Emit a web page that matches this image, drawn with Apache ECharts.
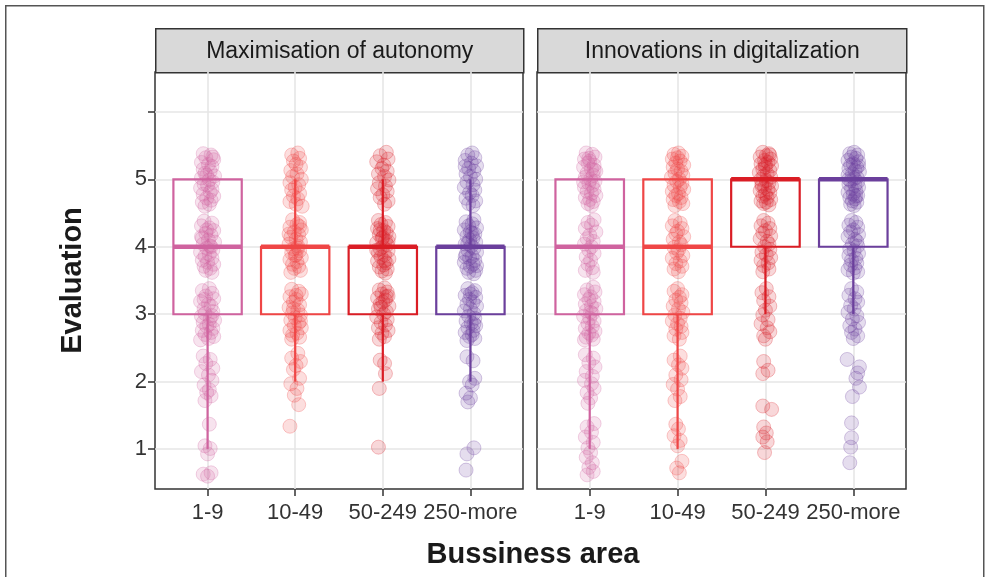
<!DOCTYPE html>
<html>
<head>
<meta charset="utf-8">
<title>Evaluation by business size</title>
<script src="https://cdn.jsdelivr.net/npm/echarts@6/dist/echarts.min.js"></script>
<style>
  html, body { margin: 0; padding: 0; background: #fff; }
  #chart { width: 990px; height: 577px; }
</style>
</head>
<body>
<div id="chart"></div>
<script>
// Facets, categories and axis ticks
const facets = ['Maximisation of autonomy', 'Innovations in digitalization'];
const categories = ['1-9', '10-49', '50-249', '250-more'];
const yLabelTicks = [1, 2, 3, 4, 5];
const yGridTicks = [1, 2, 3, 4, 5, 6];

// Box statistics per category: [lower whisker, Q1, median, Q3, upper whisker]
const autonomyBoxes = [[1, 3, 4, 5, 5], [2, 3, 4, 4, 5], [2, 3, 4, 4, 5], [2, 3, 4, 4, 5]];
const digitalBoxes = [[1, 3, 4, 5, 5], [1, 3, 4, 5, 5], [3, 4, 5, 5, 5], [3, 4, 5, 5, 5]];

// Jittered responses: [horizontal jitter (category units), evaluation]
const autonomy_1_9 = [
  [-.05,5.38],[.04,5.36],[-.02,5.32],[.07,5.29],[-.07,5.25],[.01,5.22],[.05,5.19],[-.05,5.15],[.03,5.12],[-.03,5.09],[.08,5.05],[-.07,5.02],[.02,4.99],[.06,4.96],[-.04,4.93],[.00,4.91],[-.08,4.87],[.05,4.85],[.03,4.81],[-.05,4.78],[.07,4.75],[-.01,4.72],[.04,4.69],[-.06,4.66],[.02,4.63],[-.03,4.60],[.06,5.33],[-.01,5.06],
  [-.04,4.38],[.05,4.35],[-.07,4.31],[.02,4.28],[.07,4.24],[-.02,4.20],[.04,4.17],[-.06,4.13],[.01,4.10],[.08,4.07],[-.05,4.04],[.03,4.01],[-.01,3.98],[.06,3.95],[-.08,3.92],[.02,3.89],[-.03,3.86],[.05,3.83],[-.06,3.80],[.00,3.77],[.07,3.74],[-.04,3.71],[.03,3.68],[-.02,3.65],[.05,3.62],[-.07,4.15],[.04,4.00],[-.01,4.25],
  [.02,3.38],[-.06,3.35],[.05,3.31],[-.02,3.27],[.07,3.23],[-.08,3.19],[.01,3.15],[.04,3.12],[-.04,3.08],[.06,3.04],[-.03,3.01],[-.07,2.97],[.03,2.94],[.08,2.91],[-.05,2.88],[.02,2.85],[-.01,2.82],[.06,2.79],[-.06,2.76],[.04,2.73],[-.03,2.70],[.07,2.67],[.01,2.64],[-.08,2.62],[.05,2.98],[-.04,3.22],
  [-.05,2.38],[.03,2.33],[-.02,2.27],[.06,2.20],[-.07,2.15],[.01,2.10],[.05,2.02],[-.04,1.95],[.02,1.88],[-.01,1.84],[.04,1.79],[-.03,1.72],
  [.02,1.37],[-.03,1.05],[.03,1.01],[.00,0.93],[-.05,0.63],[.04,0.65],[.00,0.60]
];
const autonomy_10_49 = [
  [.03,5.39],[-.04,5.36],[.05,5.31],[-.02,5.27],[.01,5.22],[.06,5.18],[-.05,5.13],[.02,5.08],[-.03,5.04],[.07,5.00],[-.06,4.95],[.04,4.92],[.00,4.88],[-.04,4.84],[.05,4.79],[-.02,4.75],[.03,4.71],[-.06,4.67],[.01,4.63],[.08,4.60],
  [-.03,4.40],[.05,4.36],[.02,4.33],[-.06,4.29],[.07,4.25],[-.01,4.22],[.04,4.18],[-.05,4.14],[.01,4.11],[.06,4.07],[-.07,4.04],[.03,4.01],[-.02,3.97],[.05,3.94],[-.04,3.91],[.00,3.87],[.07,3.84],[-.06,3.81],[.02,3.78],[-.03,3.74],[.04,3.71],[-.01,3.68],[.06,3.65],[-.05,3.62],[.03,3.98],[-.07,4.19],[.01,3.88],[.05,4.30],
  [-.04,3.37],[.04,3.34],[.07,3.30],[-.06,3.26],[.01,3.22],[-.02,3.18],[.05,3.14],[-.07,3.10],[.03,3.06],[-.03,3.02],[.06,2.99],[.00,2.95],[-.05,2.91],[.04,2.87],[-.01,2.83],[.07,2.80],[-.06,2.76],[.02,2.72],[-.03,2.69],[.05,2.66],[-.04,2.63],[.01,3.28],[.06,2.90],[-.02,3.08],
  [.03,2.42],[-.04,2.35],[.06,2.30],[.01,2.24],[-.02,2.18],[.05,2.05],[-.05,1.97],[.02,1.90],[-.01,1.80],[.04,1.66],
  [-.06,1.34]
];
const autonomy_50_249 = [
  [.04,5.40],[-.03,5.35],[.06,5.30],[-.07,5.26],[.01,5.21],[-.01,5.16],[.05,5.12],[-.05,5.08],[.02,5.04],[.07,4.99],[-.04,4.95],[.03,4.90],[-.06,4.86],[.05,4.82],[.00,4.77],[-.03,4.73],[.06,4.68],[.02,4.63],
  [-.05,4.39],[.03,4.36],[-.02,4.33],[.06,4.30],[-.06,4.27],[.01,4.24],[.04,4.21],[-.04,4.18],[.07,4.15],[-.01,4.12],[.03,4.09],[-.07,4.06],[.05,4.03],[.00,4.00],[-.03,3.97],[.06,3.94],[-.05,3.91],[.02,3.88],[-.02,3.85],[.07,3.82],[-.06,3.79],[.04,3.76],[.01,3.73],[-.04,3.70],[.05,3.67],[-.01,3.64],[.03,3.61],[-.07,3.95],[.06,4.08],[-.03,4.25],[.02,3.79],[.00,4.14],
  [.02,3.39],[-.04,3.36],[.05,3.33],[-.01,3.30],[.06,3.27],[-.06,3.24],[.03,3.21],[.00,3.18],[-.03,3.15],[.07,3.12],[-.05,3.08],[.04,3.04],[.01,3.00],[-.07,2.96],[.05,2.92],[-.02,2.88],[.03,2.84],[-.05,2.80],[.06,2.76],[-.01,2.72],[.02,2.67],[-.04,2.63],[.04,3.26],[-.02,3.10],
  [-.03,2.32],[.02,2.27],[.03,2.12],[-.04,1.90],
  [-.05,1.03]
];
const autonomy_250_more = [
  [.02,5.39],[-.03,5.36],[.05,5.32],[-.06,5.28],[.01,5.24],[.07,5.20],[-.02,5.16],[.04,5.12],[-.05,5.08],[.00,5.04],[.06,5.00],[-.04,4.96],[.03,4.92],[-.07,4.88],[.05,4.84],[-.01,4.80],[.02,4.76],[-.05,4.72],[.06,4.68],[-.02,4.64],[.03,4.61],[-.06,5.19],
  [.04,4.40],[-.05,4.37],[.02,4.34],[-.02,4.31],[.07,4.28],[-.07,4.25],[.00,4.22],[.05,4.19],[-.04,4.16],[.03,4.13],[-.01,4.10],[.06,4.07],[-.06,4.04],[.01,4.01],[.04,3.98],[-.03,3.95],[.07,3.92],[-.05,3.89],[.02,3.86],[-.01,3.83],[.05,3.80],[-.07,3.77],[.03,3.74],[.00,3.71],[-.04,3.68],[.06,3.65],[-.02,3.62],[.04,3.60],[-.06,3.85],[.02,4.20],[.07,3.72],[-.03,4.05],
  [-.03,3.38],[.05,3.35],[.02,3.32],[-.06,3.28],[.06,3.25],[-.01,3.22],[.03,3.18],[-.04,3.15],[.07,3.12],[.00,3.08],[-.07,3.05],[.04,3.01],[-.02,2.97],[.05,2.94],[-.05,2.90],[.01,2.87],[.06,2.83],[-.03,2.80],[.03,2.76],[-.06,2.73],[.02,2.70],[-.01,2.67],[.05,2.64],[-.04,2.61],[.00,3.30],[.04,2.86],
  [-.04,2.37],[.03,2.31],[.05,2.05],[-.01,2.00],[.02,1.95],[-.05,1.83],[.00,1.76],[-.03,1.70],
  [.04,1.02],[-.04,0.93],[-.05,0.69]
];
const digital_1_9 = [
  [-.04,5.39],[.03,5.37],[.06,5.33],[-.06,5.30],[.00,5.27],[-.02,5.24],[.05,5.21],[-.07,5.18],[.02,5.15],[.07,5.12],[-.03,5.09],[.04,5.06],[-.05,5.03],[.01,5.00],[.06,4.97],[-.01,4.94],[.03,4.91],[-.06,4.88],[.05,4.85],[-.03,4.82],[.02,4.79],[.07,4.76],[-.05,4.73],[.00,4.70],[.04,4.67],[-.02,4.64],[.02,4.61],[-.07,4.96],[.05,5.14],[-.01,5.31],
  [.05,4.40],[-.02,4.36],[.02,4.32],[-.05,4.27],[.07,4.22],[.00,4.17],[-.03,4.12],[.04,4.08],[-.06,4.04],[.02,4.00],[-.01,3.95],[.05,3.90],[-.04,3.85],[.01,3.80],[-.02,3.74],[.03,3.69],[-.05,3.65],[.04,3.62],
  [.04,3.40],[-.03,3.36],[.06,3.33],[-.06,3.29],[.01,3.26],[-.01,3.22],[.05,3.19],[-.05,3.15],[.02,3.12],[.07,3.08],[-.04,3.05],[.03,3.01],[-.07,2.97],[.00,2.94],[.05,2.90],[-.02,2.86],[.03,2.82],[-.05,2.79],[.06,2.75],[-.01,2.72],[.02,2.69],[-.04,2.66],[.04,2.63],[-.06,2.62],[.01,3.03],
  [-.05,2.40],[.04,2.35],[-.01,2.28],[.06,2.22],[-.04,2.15],[.03,2.08],[-.06,2.02],[.02,1.97],[.05,1.90],[-.03,1.84],[.01,1.76],[-.02,1.68],
  [.05,1.38],[-.03,1.33],[.02,1.25],[-.05,1.18],[.04,1.10],[-.02,1.02],[.01,0.95],[-.04,0.88],[.03,0.80],[-.01,0.73],[.04,0.67],[-.03,0.62]
];
const digital_10_49 = [
  [.01,5.39],[-.04,5.37],[.05,5.34],[-.06,5.30],[.03,5.27],[-.02,5.24],[.07,5.21],[-.05,5.18],[.00,5.15],[.04,5.12],[-.03,5.09],[.06,5.06],[-.07,5.03],[.02,5.00],[-.01,4.97],[.05,4.94],[-.04,4.91],[.03,4.88],[.07,4.85],[-.06,4.82],[.01,4.79],[-.02,4.76],[.04,4.73],[-.05,4.70],[.02,4.67],[.06,4.64],[-.03,4.61],[.00,5.32],
  [-.03,4.39],[.03,4.35],[-.06,4.31],[.05,4.27],[.00,4.23],[-.02,4.19],[.07,4.15],[-.05,4.11],[.02,4.07],[.04,4.03],[-.04,3.99],[.01,3.95],[-.01,3.91],[.06,3.87],[-.06,3.83],[.03,3.79],[-.02,3.75],[.05,3.71],[-.04,3.67],[.01,3.63],
  [.00,3.38],[-.04,3.34],[.05,3.29],[.02,3.25],[-.02,3.21],[.04,3.17],[-.05,3.12],[.01,3.08],[.06,3.03],[-.03,2.99],[.03,2.94],[-.06,2.90],[.00,2.86],[.04,2.82],[-.02,2.78],[.05,2.73],[-.04,2.68],[.02,2.63],
  [.03,2.38],[-.04,2.32],[.01,2.25],[.05,2.20],[-.02,2.10],[.04,2.03],[-.05,1.96],[.00,1.89],[.03,1.78],[-.03,1.72],
  [-.02,1.37],[.01,1.30],[-.04,1.20],[.03,1.13],[.00,1.05],[.05,0.82],[-.01,0.72],[.02,0.65]
];
const digital_50_249 = [
  [-.03,5.40],[.04,5.38],[.01,5.35],[-.06,5.33],[.06,5.30],[-.01,5.28],[.03,5.25],[-.05,5.23],[.07,5.20],[.00,5.18],[-.03,5.15],[.05,5.13],[-.07,5.10],[.02,5.08],[-.02,5.05],[.06,5.03],[-.05,5.00],[.01,4.98],[.04,4.95],[-.04,4.93],[.07,4.90],[-.01,4.88],[.03,4.85],[-.06,4.83],[.05,4.80],[.00,4.78],[-.03,4.75],[.02,4.73],[.06,4.70],[-.05,4.68],[.01,4.66],[-.02,4.64],[.04,4.62],[.00,5.22],[-.04,4.90],[.05,5.36],
  [-.02,4.39],[.03,4.35],[-.05,4.31],[.05,4.27],[.00,4.24],[-.03,4.20],[.06,4.16],[-.06,4.12],[.02,4.08],[.04,4.04],[-.01,4.00],[.05,3.96],[-.04,3.92],[.01,3.88],[.06,3.84],[-.05,3.80],[.03,3.76],[-.02,3.72],[.04,3.67],[-.03,3.63],
  [.01,3.38],[-.04,3.32],[.04,3.26],[-.02,3.20],[.05,3.12],[.00,3.06],[-.03,2.99],[.03,2.92],[-.05,2.86],[.02,2.80],[.05,2.74],[-.02,2.68],[.00,2.63],
  [-.02,2.30],[.03,2.17],[-.03,2.12],[-.03,1.64],[.07,1.59],
  [-.02,1.33],[.01,1.24],[-.03,1.18],[.02,1.11],[-.01,0.95]
];
const digital_250_more = [
  [.01,5.40],[-.04,5.38],[.05,5.36],[-.02,5.33],[.03,5.31],[-.06,5.28],[.06,5.26],[.00,5.23],[-.03,5.21],[.04,5.18],[-.05,5.16],[.02,5.13],[.07,5.11],[-.01,5.08],[-.06,5.06],[.04,5.03],[.01,5.01],[-.03,4.98],[.05,4.96],[-.05,4.93],[.02,4.91],[.06,4.88],[-.02,4.86],[.03,4.83],[-.06,4.81],[.00,4.78],[.05,4.76],[-.04,4.73],[.02,4.71],[-.01,4.68],[.04,4.66],[-.03,4.63],[.01,4.61],[.06,5.20],[-.05,5.00],[.03,4.75],
  [-.02,4.39],[.03,4.36],[-.05,4.32],[.05,4.29],[.00,4.25],[-.03,4.22],[.06,4.18],[-.06,4.15],[.02,4.11],[.04,4.08],[-.01,4.04],[.05,4.01],[-.04,3.97],[.01,3.94],[.06,3.90],[-.05,3.87],[.03,3.83],[-.02,3.80],[.04,3.76],[-.03,3.73],[.02,3.69],[-.06,3.66],[.05,3.63],[.00,3.61],
  [-.02,3.38],[.04,3.33],[-.05,3.28],[.02,3.23],[.05,3.18],[-.03,3.13],[.01,3.08],[-.06,3.03],[.04,2.98],[-.01,2.93],[.06,2.88],[-.04,2.83],[.02,2.78],[-.02,2.73],[.05,2.68],[.00,2.64],
  [-.07,2.33],[.07,2.22],[.05,2.13],[.03,2.05],[.07,1.92],[-.01,1.78],
  [-.02,1.39],[-.02,1.17],[-.03,1.03],[-.04,0.80]
];

const autonomyPoints = [autonomy_1_9, autonomy_10_49, autonomy_50_249, autonomy_250_more];
const digitalPoints = [digital_1_9, digital_10_49, digital_50_249, digital_250_more];

// Styling
const palette = ['#CF639F', '#EF4646', '#DA1D25', '#6B3F9C'];
const FONT = 'Liberation Sans, Arial, Helvetica, sans-serif';
const BOX_HALF = 0.39;

function rgba(hex, a) {
  const n = parseInt(hex.slice(1), 16);
  return `rgba(${(n >> 16) & 255},${(n >> 8) & 255},${n & 255},${a})`;
}

const panels = [
  { left: 155, width: 368 },
  { left: 537, width: 369 }
];
const PANEL_TOP = 72, PANEL_H = 417, STRIP_TOP = 28;

const grids = panels.map(p => ({
  left: p.left, top: PANEL_TOP, width: p.width, height: PANEL_H,
  show: true, backgroundColor: '#fff', borderColor: '#333', borderWidth: 1.5,
  containLabel: false
}));

const xAxes = panels.map((p, k) => ({
  type: 'value', gridIndex: k, min: 0.4, max: 4.6,
  axisLine: { show: false },
  axisTick: { show: true, length: 7, customValues: [1, 2, 3, 4], lineStyle: { color: '#333', width: 1.5 } },
  axisLabel: {
    customValues: [1, 2, 3, 4], margin: 13,
    formatter: v => categories[Math.round(v) - 1],
    fontSize: 22, color: '#333', fontFamily: FONT
  },
  splitLine: { show: true, lineStyle: { color: '#E6E6E6', width: 1.6 } }
}));

const yAxes = panels.map((p, k) => ({
  type: 'value', gridIndex: k, min: 0.41, max: 6.59,
  axisLine: { show: false },
  axisTick: { show: k === 0, length: 7, customValues: yGridTicks, lineStyle: { color: '#333', width: 1.5 } },
  axisLabel: {
    show: k === 0, customValues: yLabelTicks, margin: 8,
    fontSize: 22, color: '#333', fontFamily: FONT
  },
  splitLine: { show: true, lineStyle: { color: '#E6E6E6', width: 1.6 } },
  name: k === 0 ? 'Evaluation' : '',
  nameLocation: 'middle', nameRotate: 90, nameGap: 68,
  nameTextStyle: { fontSize: 29, fontWeight: 'bold', color: '#1a1a1a', fontFamily: FONT }
}));

function renderBox(params, api) {
  const x = api.value(0);
  const lo = api.value(1), q1 = api.value(2), md = api.value(3), q3 = api.value(4), hi = api.value(5);
  const c = palette[params.dataIndex];
  const pTopLeft = api.coord([x - BOX_HALF, q3]);
  const pBotRight = api.coord([x + BOX_HALF, q1]);
  const xc = api.coord([x, md])[0];
  const yMd = api.coord([x, md])[1];
  const yLo = api.coord([x, lo])[1];
  const yHi = api.coord([x, hi])[1];
  const thin = { stroke: c, lineWidth: 2.2, fill: null };
  return {
    type: 'group',
    children: [
      { type: 'line', shape: { x1: xc, y1: pBotRight[1], x2: xc, y2: yLo }, style: thin },
      { type: 'line', shape: { x1: xc, y1: pTopLeft[1], x2: xc, y2: yHi }, style: thin },
      { type: 'rect', shape: { x: pTopLeft[0], y: pTopLeft[1], width: pBotRight[0] - pTopLeft[0], height: pBotRight[1] - pTopLeft[1] },
        style: { stroke: c, lineWidth: 2.2, fill: 'rgba(0,0,0,0)' } },
      { type: 'line', shape: { x1: pTopLeft[0], y1: yMd, x2: pBotRight[0], y2: yMd }, style: { stroke: c, lineWidth: 4.4 } }
    ]
  };
}

const series = [];
[autonomyPoints, digitalPoints].forEach((groups, k) => {
  groups.forEach((pts, i) => {
    series.push({
      type: 'scatter', xAxisIndex: k, yAxisIndex: k,
      data: pts.map(p => [i + 1 + p[0], p[1]]),
      symbol: 'circle', symbolSize: 14,
      itemStyle: { color: rgba(palette[i], 0.22), borderColor: rgba(palette[i], 0.34), borderWidth: 1 },
      silent: true, z: 2
    });
  });
});
[autonomyBoxes, digitalBoxes].forEach((boxes, k) => {
  series.push({
    type: 'custom', xAxisIndex: k, yAxisIndex: k,
    data: boxes.map((b, i) => [i + 1].concat(b)),
    encode: { x: 0, y: [1, 2, 3, 4, 5] },
    renderItem: renderBox, silent: true, z: 3
  });
});

const strips = panels.map((p, k) => ({
  type: 'group', left: p.left, top: STRIP_TOP,
  children: [
    { type: 'rect', shape: { x: 0, y: 0, width: p.width, height: PANEL_TOP - STRIP_TOP },
      style: { fill: '#D9D9D9', stroke: '#333', lineWidth: 1.5 } },
    { type: 'text', x: p.width / 2, y: (PANEL_TOP - STRIP_TOP) / 2 + 1,
      style: { text: facets[k], fill: '#1a1a1a', font: `23px ${FONT}`, align: 'center', verticalAlign: 'middle' } }
  ]
}));

const chart = echarts.init(document.getElementById('chart'), null, { renderer: 'canvas', width: 990, height: 577 });
chart.setOption({
  animation: false,
  backgroundColor: '#fff',
  title: {
    text: 'Bussiness area', left: 528, top: 535, textAlign: 'center',
    textStyle: { fontSize: 29, fontWeight: 'bold', color: '#1a1a1a', fontFamily: FONT }
  },
  grid: grids,
  xAxis: xAxes,
  yAxis: yAxes,
  series: series,
  graphic: [
    { type: 'rect', left: 5, top: 5, z: -10, silent: true,
      shape: { x: 0, y: 0, width: 978, height: 600 },
      style: { fill: 'rgba(0,0,0,0)', stroke: '#555', lineWidth: 1.5 } }
  ].concat(strips)
});
</script>
</body>
</html>
